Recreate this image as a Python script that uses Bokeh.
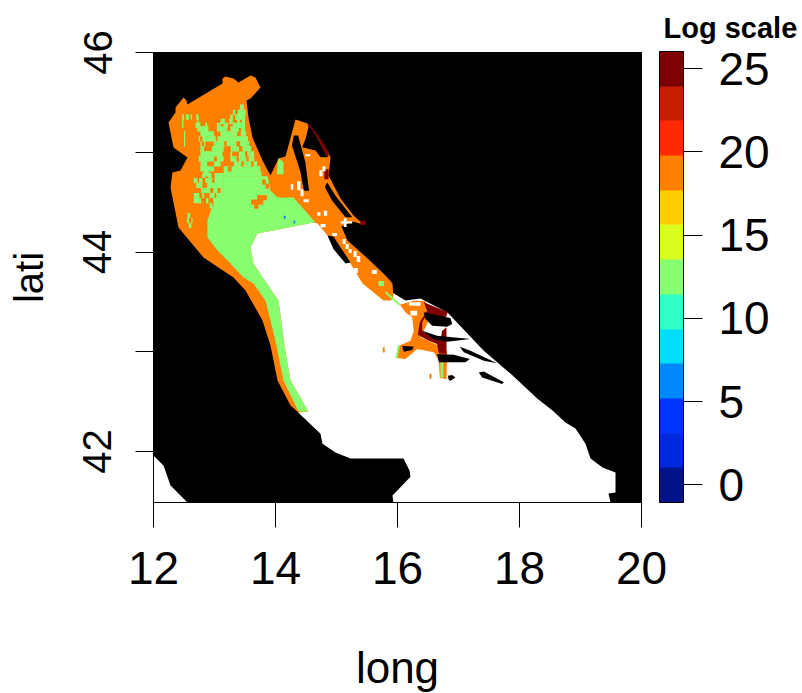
from bokeh.plotting import figure
from bokeh.models import ColorBar, LinearColorMapper, FixedTicker, Title
from bokeh.embed import file_html
from bokeh.resources import INLINE

# ---- colour scale ----
scale_colors = ["#00138B", "#0029DD", "#0033FF", "#0088FF", "#00DDFF", "#30FFC8", "#88FF70",
                "#D9FF1F", "#FFCC00", "#FF7F00", "#FF2A00", "#C81E00", "#7F0000"]
scale_low, scale_high = -1.07, 26.04
scale_ticks = [0, 5, 10, 15, 20, 25]
orange, green, darkred, blue = "#FF7F00", "#88FF70", "#7F0000", "#0088FF"

x_ticks = [12, 14, 16, 18, 20]
y_ticks = [42, 43, 44, 45, 46]

# ---- sea (no data) ----
sea_lon = [15.934, 15.918, 16.213, 16.197, 16.098, 15.23, 14.984, 14.77, 14.738, 14.377, 14.3, 14.0, 13.7, 13.55,
           13.75, 14.65, 15.2, 15.5, 15.9, 16.131, 16.377, 16.82, 17.41, 17.852, 18.295, 18.541, 18.754, 18.918,
           19.082, 19.164, 19.361, 19.574, 19.574, 19.459, 19.492]
sea_lat = [41.49, 41.559, 41.749, 41.81, 41.93, 41.93, 41.99, 42.08, 42.18, 42.39, 42.5, 43.2, 43.7, 44.1,
           44.3, 44.35, 44.0, 43.75, 43.6, 43.514, 43.534, 43.393, 43.013, 42.782, 42.531, 42.411, 42.291, 42.231,
           42.08, 41.93, 41.84, 41.79, 41.589, 41.579, 41.49]
corner_lon = [12, 12.164, 12.279, 12.557, 12]
corner_lat = [41.96, 41.86, 41.66, 41.49, 41.49]

# ---- main orange class ----
north_lon = [13.131, 13.18, 13.311, 13.393, 13.59, 13.672, 13.754, 13.59, 13.525, 13.557, 13.623, 13.787, 13.918,
             14.049, 14.164, 14.328, 14.525, 14.656, 14.82, 14.902, 14.869, 15.066, 15.279, 15.443, 15.262, 15.082,
             15.18, 15.475, 15.803, 15.918, 15.934, 15.885, 15.77, 15.426, 15.23, 14.852, 14.689, 14.623, 14.131,
             13.705, 13.59, 13.639, 13.803, 14.049, 14.148, 14.246, 14.541, 14.377, 14.246, 14.033, 13.918, 13.787,
             13.508, 13.311, 12.82, 12.41, 12.279, 12.311, 12.443, 12.557, 12.328, 12.246, 12.361, 12.361, 12.492,
             12.541, 12.557, 13.131]
north_lat = [45.739, 45.759, 45.739, 45.699, 45.769, 45.749, 45.649, 45.539, 45.519, 45.348, 45.148, 44.917, 44.767,
             44.937, 44.957, 45.328, 45.288, 45.188, 45.048, 44.947, 44.767, 44.536, 44.366, 44.276, 44.306, 44.256,
             44.115, 43.955, 43.764, 43.684, 43.534, 43.514, 43.514, 43.684, 43.885, 44.165, 44.286, 44.296, 44.236,
             44.186, 44.045, 43.885, 43.734, 43.514, 43.063, 42.712, 42.401, 42.391, 42.461, 42.712, 43.063, 43.313,
             43.614, 43.744, 43.945, 44.246, 44.647, 44.797, 44.817, 44.947, 45.048, 45.298, 45.398, 45.449, 45.549,
             45.519, 45.479, 45.689]

# ---- solid green class ----
body_lon = [13.15, 13.87, 13.918, 14.033, 14.295, 14.525, 14.656, 14.623, 14.131, 13.705, 13.59, 13.639, 13.803,
            14.049, 14.148, 14.246, 14.541, 14.377, 14.131, 14.016, 13.918, 13.836, 13.639, 13.475, 13.262, 13.049,
            12.885, 12.885, 12.984, 13.148]
body_lat = [44.76, 44.76, 44.617, 44.546, 44.546, 44.386, 44.296, 44.296, 44.236, 44.186, 44.045, 43.885, 43.734,
            43.514, 43.063, 42.712, 42.401, 42.401, 42.712, 43.063, 43.313, 43.514, 43.684, 43.744, 43.885, 44.015,
            44.145, 44.316, 44.486, 44.617]
patch_lon = [14.05, 14.13, 14.13, 14.02]
patch_lat = [44.94, 44.90, 44.78, 44.78]

# green cells of the mixed zone: latitude of the row, then (lon from, lon to) spans
green_rows = [
    (45.452, [(13.416, 13.481)]),
    (45.40, [(13.30, 13.34), (13.38, 13.51)]),
    (45.352, [(12.47, 12.50), (12.53, 12.58), (12.61, 12.63), (12.70, 12.74), (13.26, 13.30), (13.34, 13.50)]),
    (45.31, [(12.47, 12.49), (12.72, 12.74), (13.10, 13.17), (13.24, 13.30), (13.37, 13.42), (13.45, 13.50)]),
    (45.27, [(12.47, 12.49), (12.69, 12.77), (12.85, 12.88), (13.04, 13.10), (13.15, 13.22), (13.30, 13.50)]),
    (45.235, [(12.72, 12.90), (13.04, 13.21), (13.26, 13.40), (13.44, 13.50)]),
    (45.185, [(12.50, 12.52), (12.77, 12.99), (13.10, 13.37), (13.43, 13.52)]),
    (45.135, [(12.50, 12.52), (12.74, 12.76), (12.80, 13.02), (13.05, 13.55)]),
    (45.085, [(12.50, 12.52), (12.77, 12.79), (12.83, 12.85), (12.99, 13.57)]),
    (45.034, [(12.77, 12.83), (12.96, 13.15), (13.27, 13.60)]),
    (44.984, [(12.77, 13.13), (13.26, 13.29), (13.40, 13.65)]),
    (44.934, [(12.74, 12.99), (13.04, 13.15), (13.26, 13.65)]),
    (44.884, [(12.77, 12.88), (12.99, 13.10), (13.32, 13.70)]),
    (44.834, [(12.77, 12.99), (13.15, 13.75)]),
    (44.783, [(12.82, 12.91), (13.15, 13.77)]),
    (44.767, [(12.80, 12.85), (12.90, 12.95), (13.0, 13.15)]),
    (44.717, [(12.66, 12.72), (12.75, 12.80), (12.85, 12.96), (13.0, 13.15)]),
    (44.667, [(12.70, 12.80), (12.88, 13.15)]),
    (44.617, [(12.78, 12.93), (12.98, 13.05), (13.10, 13.15)]),
    (44.566, [(12.66, 12.75), (12.80, 12.83), (12.92, 13.0), (13.03, 13.15)]),
    (44.516, [(12.66, 12.78), (12.86, 12.90), (12.98, 13.1)]),
    (44.466, [(12.92, 12.96), (13.0, 13.06)]),
    (44.416, [(12.96, 13.0)]),
    (44.366, [(12.56, 12.60)]),
    (44.315, [(12.55, 12.58), (12.62, 12.64)]),
    (44.265, [(12.58, 12.62)]),
]
# orange holes inside the solid green: lat, spans
orange_rows = [
    (45.085, [(13.16, 13.20), (13.36, 13.42)]), (45.034, [(13.20, 13.26), (13.40, 13.46)]),
    (44.984, [(13.50, 13.54)]), (44.934, [(13.36, 13.40), (13.52, 13.56)]),
    (44.884, [(13.44, 13.48), (13.60, 13.64)]), (44.834, [(13.22, 13.28)]),
    (44.70, [(13.78, 13.84)]), (44.66, [(13.84, 13.89)]),
    (44.546, [(13.70, 13.86)]), (44.50, [(13.60, 13.80)]), (44.46, [(13.65, 13.72)]),
    (43.02, [(15.76, 15.79)]), (42.755, [(16.524, 16.557)]),
]

# ---- Croatian coast, orange + dark red ----
split_lon = [16.038, 16.267, 16.459, 16.54, 16.486, 16.377, 16.623, 16.814, 16.803, 16.694, 16.677, 16.595, 16.322,
             16.131, 15.983, 16.021, 16.213, 16.267, 16.24, 16.131]
split_lat = [43.473, 43.513, 43.507, 43.38, 43.279, 43.145, 43.079, 43.012, 42.727, 42.737, 42.911, 42.995, 43.028,
             42.928, 42.938, 43.062, 43.112, 43.212, 43.346, 43.396]
red1_lon = [16.431, 16.825, 16.787, 16.486, 16.404, 16.404, 16.568, 16.705, 16.732, 16.803, 16.803, 16.677, 16.65,
            16.486, 16.333, 16.366, 16.486]
red1_lat = [43.497, 43.396, 43.339, 43.38, 43.296, 43.212, 43.145, 43.119, 43.212, 43.246, 42.978, 42.985, 43.079,
            43.119, 43.172, 43.296, 43.413]
red2_lon = [14.519, 14.574, 14.738, 14.874, 14.863, 14.847, 14.71, 14.547]
red2_lat = [45.284, 45.268, 45.134, 45.0, 44.95, 44.95, 45.117, 45.25]
red_spots = [(14.80, 14.87, 44.73, 44.83), (15.39, 15.475, 44.27, 44.315)]
green_spots = [(16.705, 16.75, 42.744, 42.895), (15.69, 15.78, 43.66, 43.71)]
green_fringe = [([16.021, 15.983], [43.062, 42.938]), ([15.803, 16.038], [43.597, 43.473])]
blue_lon = [14.15, 14.31]
blue_lat = [44.35, 44.30]

# ---- islands (black) ----
islands = [
    ([14.30, 14.37, 14.49, 14.55, 14.465, 14.41, 14.27], [45.167, 45.167, 44.90, 44.615, 44.615, 44.80, 45.067]),
    ([14.547, 14.71, 14.847, 14.738, 14.656, 14.437, 14.492], [45.268, 45.117, 44.95, 44.95, 45.017, 45.05, 45.134]),
    ([14.847, 14.984, 15.257, 15.148, 14.929, 14.809], [44.70, 44.565, 44.348, 44.348, 44.515, 44.649]),
    ([14.852, 14.95, 15.23, 15.148, 14.95], [44.165, 44.155, 43.895, 43.885, 44.03]),
    ([16.431, 16.868, 16.896, 16.814, 16.568, 16.459], [43.396, 43.339, 43.279, 43.252, 43.262, 43.329]),
    ([16.404, 16.65, 17.196, 16.814, 16.595], [43.212, 43.162, 43.129, 43.102, 43.129]),
    ([16.65, 16.923, 17.185, 17.114, 16.677], [42.978, 42.971, 42.928, 42.895, 42.895]),
    ([17.021, 17.196, 17.634, 17.415, 17.087], [43.052, 43.012, 42.885, 42.911, 42.995]),
    ([16.076, 16.267, 16.24, 16.103], [43.062, 43.052, 43.018, 43.002]),
    ([16.825, 16.896, 16.95, 16.868, 16.841], [42.761, 42.767, 42.744, 42.711, 42.717]),
    ([17.333, 17.415, 17.743, 17.715, 17.388], [42.794, 42.804, 42.694, 42.677, 42.744]),
    ([18.59, 18.689, 18.689, 18.607], [42.431, 42.441, 42.411, 42.401]),
]

# ---- no-data spots inside the coloured zone (lon0, lon1, lat0, lat1) ----
white_spots = [
    (14.49, 14.57, 44.96, 44.98), (14.72, 14.77, 44.76, 44.82), (14.77, 14.82, 44.81, 44.86),
    (14.25, 14.29, 44.625, 44.683), (14.355, 14.41, 44.62, 44.71), (14.41, 14.46, 44.56, 44.63),
    (14.46, 14.546, 44.50, 44.53),
    (14.683, 14.738, 44.365, 44.398), (14.792, 14.847, 44.365, 44.415), (15.066, 15.257, 44.285, 44.31),
    (15.12, 15.165, 44.25, 44.34), (14.738, 14.82, 44.248, 44.28), (14.93, 15.01, 44.16, 44.19),
    (15.10, 15.15, 44.08, 44.13), (15.15, 15.20, 44.03, 44.08), (15.20, 15.25, 43.99, 44.03),
    (15.28, 15.33, 43.95, 44.01), (15.33, 15.39, 43.90, 43.96),
    (15.28, 15.35, 43.79, 43.84), (15.58, 15.66, 43.78, 43.82), (16.19, 16.377, 43.463, 43.497),
    (16.213, 16.322, 43.363, 43.413),
]

p = figure(width=800, height=691, frame_width=488, frame_height=450,
           x_range=(12, 20), y_range=(41.49, 46),
           min_border_left=153, min_border_right=159, min_border_top=52, min_border_bottom=189,
           output_backend="svg", toolbar_location=None, background_fill_color="black",
           x_axis_label="long", y_axis_label="lati")
p.grid.visible = False
p.outline_line_color = "black"
p.outline_line_width = 1


def rows_to_quads(rows, color, h=0.052):
    for lat, spans in rows:
        p.quad(left=[s[0] for s in spans], right=[s[1] for s in spans],
               bottom=lat - h / 2, top=lat + h / 2, color=color, line_color=None)


p.patch(sea_lon, sea_lat, color="white", line_color=None)
p.patch(corner_lon, corner_lat, color="white", line_color=None)
p.patch(north_lon, north_lat, color=orange, line_color=None)
p.patch(split_lon, split_lat, color=orange, line_color=None)
p.patch(body_lon, body_lat, color=green, line_color=None)
p.patch(patch_lon, patch_lat, color=green, line_color=None)
rows_to_quads(green_rows, green)
rows_to_quads(orange_rows, orange)
for xs, ys in green_fringe:
    p.line(xs, ys, line_color=green, line_width=2)
for l, r, b, t in green_spots:
    p.quad(left=l, right=r, bottom=b, top=t, color=green, line_color=None)
p.patch(red1_lon, red1_lat, color=darkred, line_color=None)
p.patch(red2_lon, red2_lat, color=darkred, line_color=None)
for l, r, b, t in red_spots:
    p.quad(left=l, right=r, bottom=b, top=t, color=darkred, line_color=None)
p.quad(left=[x - 0.015 for x in blue_lon], right=[x + 0.015 for x in blue_lon],
       bottom=[y - 0.015 for y in blue_lat], top=[y + 0.015 for y in blue_lat], color=blue, line_color=None)
for l, r, b, t in white_spots:
    p.quad(left=l, right=r, bottom=b, top=t, color="white", line_color=None)
for xs, ys in islands:
    p.patch(xs, ys, color="black", line_color=None)

ax = p.xaxis[0]
ax.ticker = FixedTicker(ticks=x_ticks)
ax.major_tick_out, ax.major_tick_in = 25, 0
ax.minor_tick_out, ax.minor_tick_in = 0, 0
ax.major_label_text_font = "Liberation Sans"
ax.major_label_text_font_size = "46px"
ax.major_label_text_color = "black"
ax.major_label_standoff = 24
ax.axis_label_text_font = "Liberation Sans"
ax.axis_label_text_font_size = "44px"
ax.axis_label_text_font_style = "normal"
ax.axis_label_text_color = "black"
ax.axis_label_standoff = 56
ax.axis_line_color = "black"
ax.major_tick_line_color = "black"
ax.major_tick_line_width = 1

ay = p.yaxis[0]
ay.ticker = FixedTicker(ticks=y_ticks)
ay.major_label_overrides = {43: "", 45: ""}
ay.major_tick_out, ay.major_tick_in = 18, 0
ay.minor_tick_out, ay.minor_tick_in = 0, 0
ay.major_label_orientation = "vertical"
ay.major_label_text_font = "Liberation Sans"
ay.major_label_text_font_size = "40px"
ay.major_label_text_color = "black"
ay.major_label_standoff = 24
ay.axis_label_text_font = "Liberation Sans"
ay.axis_label_text_font_size = "40px"
ay.axis_label_text_font_style = "normal"
ay.axis_label_text_color = "black"
ay.axis_label_standoff = 30
ay.axis_line_color = "black"
ay.major_tick_line_color = "black"
ay.major_tick_line_width = 1

mapper = LinearColorMapper(palette=scale_colors, low=scale_low, high=scale_high)
cb = ColorBar(color_mapper=mapper, ticker=FixedTicker(ticks=scale_ticks),
              width=24, height=451, location=(18, 0), margin=0, padding=0,
              major_tick_in=0, major_tick_out=19, major_tick_line_color="black", major_tick_line_width=1,
              minor_tick_line_color=None, bar_line_color="black", bar_line_width=1,
              major_label_text_font="Liberation Sans", major_label_text_font_size="46px",
              major_label_text_color="black", label_standoff=16,
              title=None)
p.add_layout(cb, "right")
p.add_layout(Title(text="Log scale", align="left", offset=510, standoff=18,
                   text_font="Liberation Sans", text_font_size="29px", text_font_style="bold",
                   text_color="black"), "above")

open("out.html", "w").write(file_html(p, INLINE))
